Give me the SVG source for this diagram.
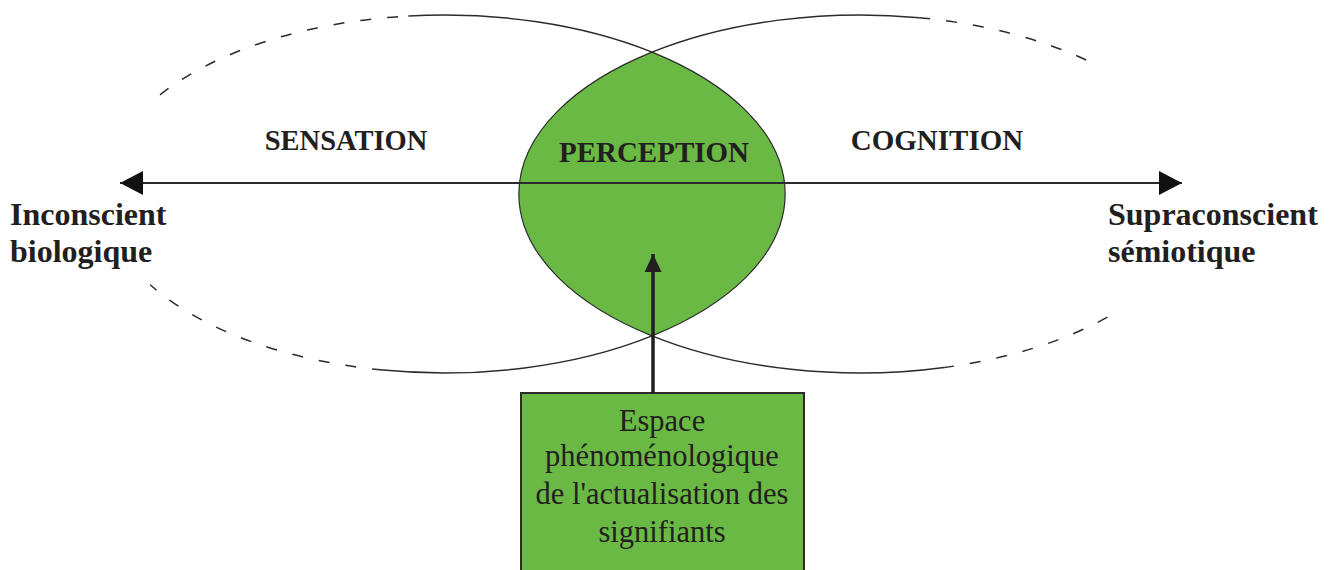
<svg xmlns="http://www.w3.org/2000/svg" width="1335" height="570" viewBox="0 0 1335 570">
<style>
.solid{fill:none;stroke:#2b2b2b;stroke-width:1.5}
.dash{fill:none;stroke:#2b2b2b;stroke-width:1.5;stroke-dasharray:11 16}
.lens{fill:#69b944;stroke:#2b2b2b;stroke-width:1.2}
.box{fill:#69b944;stroke:#2b2b2b;stroke-width:2}
.lbl{font-family:"Liberation Serif","Times New Roman",serif;font-weight:bold;fill:#231f20}
.body{font-family:"Liberation Serif","Times New Roman",serif;font-size:30.5px;fill:#231f20;text-anchor:middle}
</style>
<defs>
<marker id="ah" markerUnits="userSpaceOnUse" markerWidth="23" markerHeight="24" refX="23" refY="12" orient="auto-start-reverse">
<path d="M0,0 L23,12 L0,24 z" fill="#111"/>
</marker>
<marker id="av" markerUnits="userSpaceOnUse" markerWidth="18" markerHeight="17" refX="18" refY="8.5" orient="auto">
<path d="M0,0 L18,8.5 L0,17 z" fill="#231f20"/>
</marker>
</defs>
<g id="lens-perception">
<path class="lens" d="M652,52.1 A341,179 0 0 0 652,335.9 A341,179 0 0 0 652,52.1 Z"/>
</g>
<g id="ellipse-left">
<path class="dash" d="M160,94.9 A341,179 0 0 1 408.4,16"/>
<path class="solid" d="M408.4,16 A341,179 0 0 1 652,52.1"/>
<path class="solid" d="M652,335.9 A341,179 0 0 1 383,370.1"/>
<path class="dash" d="M383,370.1 A341,179 0 0 1 150.2,284.8"/>
</g>
<g id="ellipse-right">
<path class="solid" d="M652,52.1 A341,179 0 0 1 919.2,17.7"/>
<path class="dash" d="M919.2,17.7 A341,179 0 0 1 1090.8,62.2"/>
<path class="dash" d="M1107.4,317.2 A341,179 0 0 1 944.2,367.5"/>
<path class="solid" d="M944.2,367.5 A341,179 0 0 1 652,335.9"/>
</g>
<g id="box-espace">
<rect class="box" x="521" y="393" width="283" height="200"/>
<text class="body" x="662" y="431">Espace</text>
<text class="body" x="662" y="466">phénoménologique</text>
<text class="body" x="662" y="504">de l'actualisation des</text>
<text class="body" x="662" y="542">signifiants</text>
</g>
<g id="connectors">
<line x1="120" y1="183" x2="1182" y2="183" stroke="#2b2b2b" stroke-width="2" marker-start="url(#ah)" marker-end="url(#ah)"/>
<line x1="653" y1="393" x2="653" y2="254" stroke="#231f20" stroke-width="3.5" marker-end="url(#av)"/>
</g>
<g id="labels">
<text class="lbl" x="346" y="150" font-size="28.5" text-anchor="middle">SENSATION</text>
<text class="lbl" x="654" y="162" font-size="29" text-anchor="middle">PERCEPTION</text>
<text class="lbl" x="937" y="150" font-size="29" text-anchor="middle">COGNITION</text>
<text class="lbl" x="10" y="225" font-size="32">Inconscient</text>
<text class="lbl" x="10" y="262" font-size="32">biologique</text>
<text class="lbl" x="1108" y="225" font-size="32">Supraconscient</text>
<text class="lbl" x="1108" y="262" font-size="32">sémiotique</text>
</g>
</svg>
